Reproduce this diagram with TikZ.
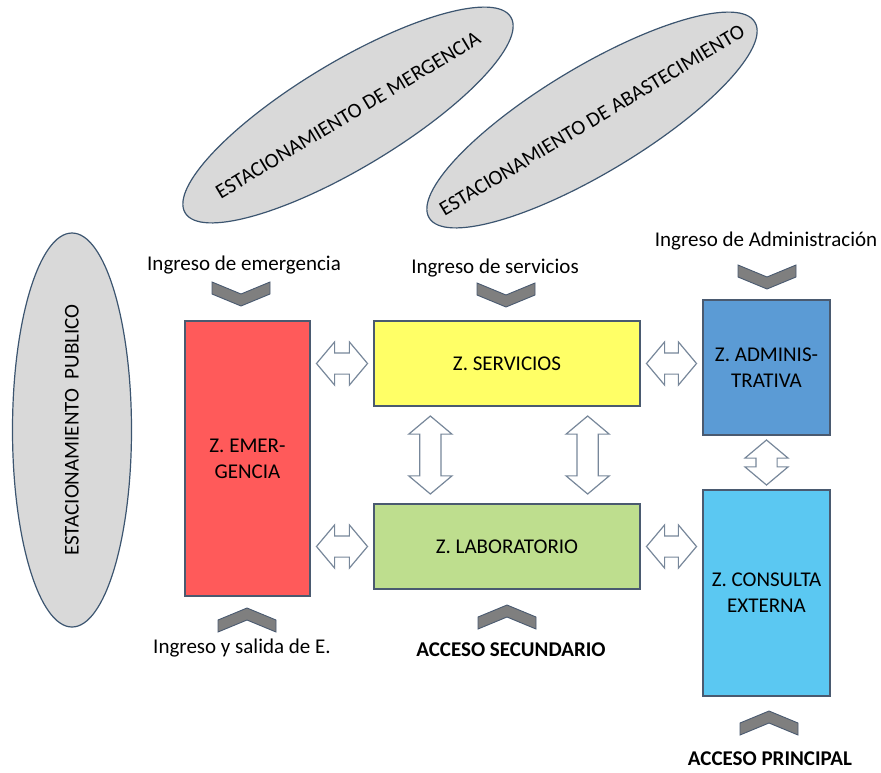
\documentclass[tikz,border=0pt]{standalone}
\usepackage{fontspec}
\setmainfont{Carlito}
\usetikzlibrary{positioning, calc, shapes.geometric, shapes.arrows}
\definecolor{zred}{HTML}{FF5A5A}
\definecolor{zyellow}{HTML}{FFFF66}
\definecolor{zgreen}{HTML}{BEDE8E}
\definecolor{zblue}{HTML}{5B9BD5}
\definecolor{zcyan}{HTML}{5BC8F2}
\definecolor{edge}{HTML}{4A5A70}
\definecolor{parkgray}{HTML}{D9D9D9}
\definecolor{parkedge}{HTML}{3C5570}
\definecolor{linkedge}{HTML}{77879A}
\definecolor{chevgray}{HTML}{7F7F7F}
\newcommand\lbl{\fontsize{21}{26}\selectfont}
\tikzset{
  zone/.style={draw=edge, line width=1.3pt, align=center, font=\lbl, inner sep=0pt},
  park/.style={ellipse, draw=parkedge, fill=parkgray, line width=1.2pt, font=\lbl, inner sep=0pt},
  link/.style={double arrow, draw=linkedge, fill=white, line width=1.2pt, inner xsep=0pt, inner ysep=10pt,
    double arrow head extend=11pt, double arrow tip angle=100},
  gate/.style={font=\lbl, inner sep=0pt},
  chev/.style={fill=chevgray, draw=edge, line width=0.9pt},
  chevdown/.pic={\draw[chev] (-29,0) -- (0,12) -- (29,0) -- (29,12) -- (0,24) -- (-29,12) -- cycle;},
  chevup/.pic={\draw[chev] (0,0) -- (29,12) -- (29,24) -- (0,12) -- (-29,24) -- (-29,12) -- cycle;},
}
\begin{document}
\begin{tikzpicture}[x=1pt, y=-1pt]
\useasboundingbox (0,0) rectangle (881,772);
% parking areas
\node[park, minimum width=394pt, minimum height=119pt, rotate=90] (pkPub) at (72,430) {\makebox[0pt]{ESTACIONAMIENTO\ \ PUBLICO}};
\node[park, minimum width=380pt, minimum height=106pt, rotate=31] (pkEme) at (348,115) {\makebox[0pt]{ESTACIONAMIENTO DE MERGENCIA}};
\node[park, minimum width=380pt, minimum height=106pt, rotate=31] (pkAba) at (592,120) {\makebox[0pt]{ESTACIONAMIENTO DE ABASTECIMIENTO}};
% zones
\node[zone, fill=zred, minimum width=125pt, minimum height=275pt] (emer) at (247.5,458.5) {Z. EMER-\\GENCIA};
\node[zone, fill=zyellow, minimum width=266pt, minimum height=85pt] (serv) at (507,363.5) {Z. SERVICIOS};
\node[zone, fill=zgreen, minimum width=266pt, minimum height=85pt] (lab) at (507,546.5) {Z. LABORATORIO};
\node[zone, fill=zblue, minimum width=127pt, minimum height=135pt] (admin) at (766.5,367.5) {Z. ADMINIS-\\TRATIVA};
\node[zone, fill=zcyan, minimum width=127pt, minimum height=206pt] (cons) at (766.5,593) {Z. CONSULTA\\EXTERNA};
% links between zones
\node[link, minimum height=51pt] (lkES) at ($(emer.east|-serv.west)!0.5!(serv.west)$) {};
\node[link, minimum height=51pt] (lkEL) at ($(emer.east|-lab.west)!0.5!(lab.west)$) {};
\node[link, minimum height=50pt] (lkSA) at ($(serv.east)!0.5!(admin.west|-serv.east)$) {};
\node[link, minimum height=50pt] (lkLC) at ($(lab.east)!0.5!(cons.west|-lab.east)$) {};
\node[link, minimum height=78pt, rotate=90] (lkSL1) at ($(serv.south west)!0.5!(lab.north west)+(57,0)$) {};
\node[link, minimum height=78pt, rotate=90] (lkSL2) at ($(serv.south east)!0.5!(lab.north east)+(-53,0)$) {};
\node[link, minimum height=45pt, rotate=90] (lkAC) at ($(admin.south)!0.5!(cons.north)$) {};
% entrances
\pic (inEme) at (241,282) {chevdown};
\pic (inSer) at (506,283) {chevdown};
\pic (inAdm) at (767,265) {chevdown};
\pic (outEme) at (247,608) {chevup};
\pic (accSec) at (507,605) {chevup};
\pic (accPri) at (769,711) {chevup};
\node[gate] (lbInEme) at (244,265) {Ingreso de emergencia};
\node[gate] (lbInSer) at (495,268) {Ingreso de servicios};
\node[gate] (lbInAdm) at (766,241) {Ingreso de Administración};
\node[gate] (lbOutEme) at (242,648) {Ingreso y salida de E.};
\node[gate, font=\lbl\bfseries] (lbAccSec) at (511,650) {ACCESO SECUNDARIO};
\node[gate, font=\lbl\bfseries] (lbAccPri) at (770,759) {ACCESO PRINCIPAL};
\end{tikzpicture}
\end{document}
